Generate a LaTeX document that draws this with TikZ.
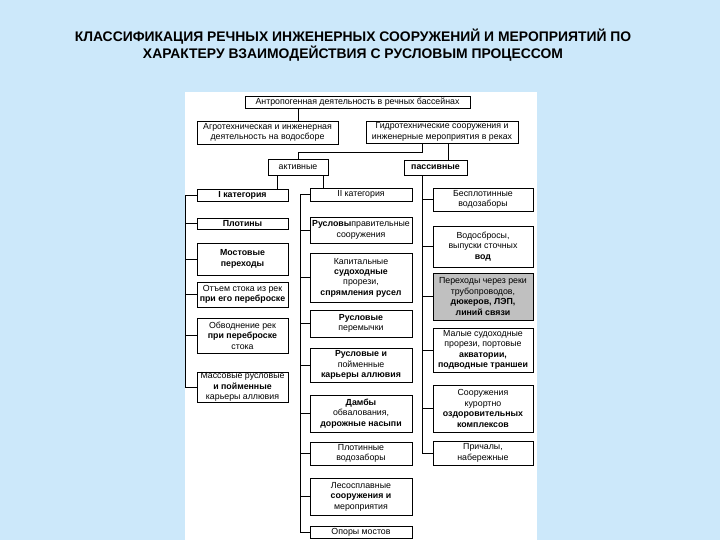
\documentclass[tikz,border=0pt]{standalone}
\usepackage{fontspec}
\setmainfont{Liberation Sans}
\definecolor{bgblue}{RGB}{204,232,250}
\definecolor{hlgray}{RGB}{192,192,192}
\begin{document}
\begin{tikzpicture}[x=1pt,y=-1pt,
  box/.style={draw, line width=0.7pt, inner sep=0pt, align=center, fill=white,
    font=\fontsize{8.8}{10.4}\selectfont},
  conn/.style={draw, line width=0.9pt}]
\useasboundingbox (0,0) rectangle (720,540);
\fill[bgblue] (0,0) rectangle (720,540);
\fill[white] (185,92) rectangle (537,540);
\node[font=\fontsize{13.9}{14.5}\selectfont\bfseries, align=center] (title) at (353,45)
  {КЛАССИФИКАЦИЯ РЕЧНЫХ ИНЖЕНЕРНЫХ СООРУЖЕНИЙ И МЕРОПРИЯТИЙ ПО\\ХАРАКТЕРУ ВЗАИМОДЕЙСТВИЯ С РУСЛОВЫМ ПРОЦЕССОМ};
% top levels
\node[box, minimum width=225pt, minimum height=12pt] (top) at (357.5,102) {Антропогенная деятельность в речных бассейнах};
\node[box, minimum width=141pt, minimum height=23pt] (agro) at (267.5,132.5) {Агротехническая и инженерная\\деятельность на водосборе};
\node[box, minimum width=152pt, minimum height=22pt] (hydro) at (442,132) {Гидротехнические сооружения и\\инженерные мероприятия в реках};
\node[box, minimum width=60pt, minimum height=16pt] (act) at (298,167) {активные};
\node[box, minimum width=63pt, minimum height=15pt] (pas) at (435.5,167.5) {\textbf{пассивные}};
% left column
\node[box, minimum width=91pt, minimum height=12pt] (cat1) at (242.5,195) {\textbf{I категория}};
\node[box, minimum width=91pt, minimum height=11pt] (plot) at (242.5,223.5) {\textbf{Плотины}};
\node[box, minimum width=91pt, minimum height=32pt] (most) at (242.5,259) {\textbf{Мостовые}\\\textbf{переходы}};
\node[box, minimum width=91pt, minimum height=25pt] (otem) at (242.5,294.5) {Отъем стока из рек\\\textbf{при его переброске}};
\node[box, minimum width=91pt, minimum height=35pt] (obv) at (242.5,335.5) {Обводнение рек\\\textbf{при переброске}\\стока};
\node[box, minimum width=91pt, minimum height=30pt] (mass) at (242.5,387) {Массовые русловые\\\textbf{и пойменные}\\карьеры аллювия};
% middle column
\node[box, minimum width=102pt, minimum height=13pt] (cat2) at (361,194.5) {II категория};
\node[box, minimum width=102pt, minimum height=26pt] (rusl) at (361,230) {\textbf{Русловы}правительные\\сооружения};
\node[box, minimum width=102pt, minimum height=49pt] (kap) at (361,277.5) {Капитальные\\\textbf{судоходные}\\прорези,\\\textbf{спрямления русел}};
\node[box, minimum width=102pt, minimum height=27pt] (per) at (361,323.5) {\textbf{Русловые}\\перемычки};
\node[box, minimum width=102pt, minimum height=34pt] (kar) at (361,365) {\textbf{Русловые и}\\пойменные\\\textbf{карьеры аллювия}};
\node[box, minimum width=102pt, minimum height=37pt] (damb) at (361,413.5) {\textbf{Дамбы}\\обвалования,\\\textbf{дорожные насыпи}};
\node[box, minimum width=102pt, minimum height=23pt] (plw) at (361,453.5) {Плотинные\\водозаборы};
\node[box, minimum width=102pt, minimum height=37pt] (les) at (361,496.5) {Лесосплавные\\\textbf{сооружения и}\\мероприятия};
\node[box, minimum width=102pt, minimum height=12pt] (opor) at (361,532) {Опоры мостов};
% right column
\node[box, minimum width=100pt, minimum height=23pt] (bes) at (483,199.5) {Бесплотинные\\водозаборы};
\node[box, minimum width=100pt, minimum height=41pt] (vod) at (483,246.5) {Водосбросы,\\выпуски сточных\\\textbf{вод}};
\node[box, fill=hlgray, minimum width=100pt, minimum height=47pt] (per2) at (483,296.5) {Переходы через реки\\трубопроводов,\\\textbf{дюкеров, ЛЭП,}\\\textbf{линий связи}};
\node[box, minimum width=100pt, minimum height=44pt] (mal) at (483,350) {Малые судоходные\\прорези, портовые\\\textbf{акватории,}\\\textbf{подводные траншеи}};
\node[box, minimum width=100pt, minimum height=47pt] (soor) at (483,408.5) {Сооружения\\курортно\\\textbf{оздоровительных}\\\textbf{комплексов}};
\node[box, minimum width=100pt, minimum height=24pt] (prich) at (483,453) {Причалы,\\набережные};
% helper coordinates
\coordinate (hx) at (422,152);
\coordinate (px) at (448,152);
\coordinate (a1) at (277,182);
\coordinate (a2) at (323,182);
\coordinate (lt) at (185,195);
\coordinate (mt) at (300,195);
\coordinate (rt) at (422,200);
% connectors
\draw[conn] (top.south -| act.north) -- (agro.north -| act.north);
\draw[conn] (hydro.south -| hx) -- (hx) -| (act.north);
\draw[conn] (hydro.south -| px) -- (pas.north -| px);
\draw[conn] (act.south -| a1) -- (cat1.north -| a1);
\draw[conn] (act.south -| a2) -- (cat2.north -| a2);
% left trunk
\draw[conn] (cat1.west) -- (cat1.west -| lt) -- (mass.west -| lt) -- (mass.west);
\foreach \n in {plot,most,otem,obv} \draw[conn] (lt |- \n.west) -- (\n.west);
% middle trunk
\draw[conn] (cat2.west) -- (cat2.west -| mt) -- (opor.west -| mt) -- (opor.west);
\foreach \n in {rusl,kap,per,kar,damb,plw,les} \draw[conn] (mt |- \n.west) -- (\n.west);
% right trunk
\draw[conn] (pas.south -| rt) -- (prich.west -| rt) -- (prich.west);
\foreach \n in {bes,vod,per2,mal,soor} \draw[conn] (rt |- \n.west) -- (\n.west);
\end{tikzpicture}
\end{document}
